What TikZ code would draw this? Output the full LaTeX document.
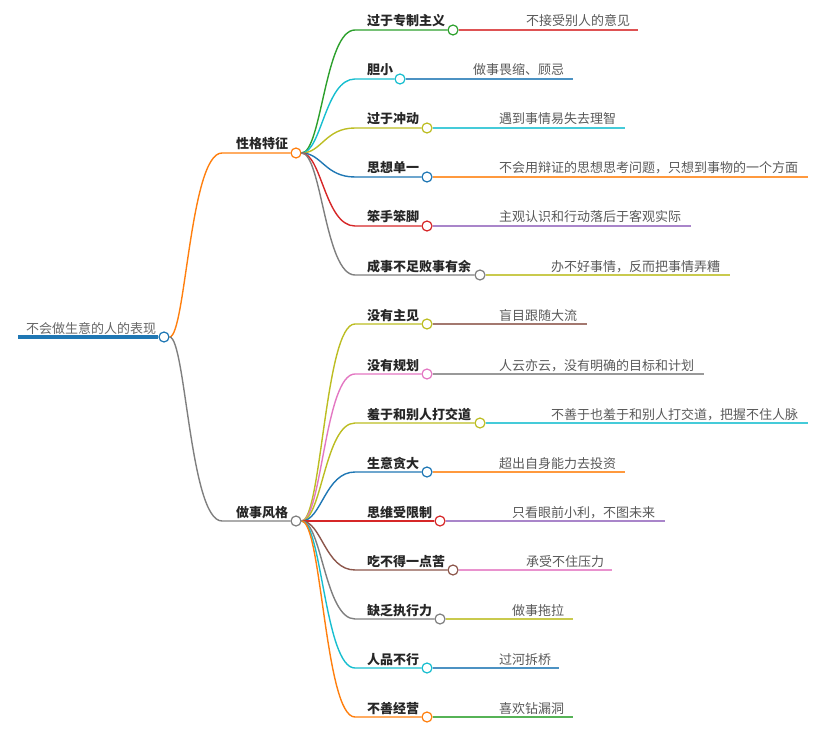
\documentclass[tikz,border=0pt]{standalone}
\usepackage{fontspec}
\setmainfont{Noto Sans CJK SC}
\definecolor{tblue}{HTML}{1F77B4}
\definecolor{torange}{HTML}{FF7F0E}
\definecolor{tgreen}{HTML}{2CA02C}
\definecolor{tred}{HTML}{D62728}
\definecolor{tpurple}{HTML}{9467BD}
\definecolor{tbrown}{HTML}{8C564B}
\definecolor{tpink}{HTML}{E377C2}
\definecolor{tgray}{HTML}{7F7F7F}
\definecolor{tolive}{HTML}{BCBD22}
\definecolor{tcyan}{HTML}{17BECF}
\tikzset{
  hub/.style={circle, draw, fill=white, minimum size=10pt, inner sep=0pt, line width=1.2pt},
  topic/.style={inner sep=0pt, anchor=base west, text=black!85, font=\fontsize{13}{15}\selectfont\bfseries},
  note/.style={inner sep=0pt, anchor=base west, text=black!65, font=\fontsize{13}{15}\selectfont},
  link/.style={line width=1.4pt},
  leaf/.style={line width=1.4pt, draw opacity=.8}
}
\begin{document}
\begin{tikzpicture}[x=1pt, y=-1pt]
    \useasboundingbox (0,0) rectangle (820,733);
    % root
    \node[hub, draw=tblue] (root) at (164,337) {};
    \coordinate (rs) at (18,337);
    \node[note, text=black!60] (rt) at (26,333) {不会做生意的人的表现};
    \draw[tblue, line width=4pt] (rs) -- (root);
    % branches
    \node[hub, draw=torange] (a) at (296,153) {};
    \coordinate (as) at (222,153);
    \node[topic] (at) at (236,149) {性格特征};
    \draw[link, torange] (root.east) .. controls +(16,0) and +(-32,0) .. (as) -- (a);
    \node[hub, draw=tgray] (b) at (296,521) {};
    \coordinate (bs) at (222,521);
    \node[topic] (bt) at (236,517) {做事风格};
    \draw[link, tgray] (root.east) .. controls +(16,0) and +(-32,0) .. (bs) -- (b);
    % 性格特征
    \node[hub, draw=tgreen] (a1) at (453,30) {};
    \coordinate (a1s) at (355,30);
    \coordinate (a1e) at (638,30);
    \node[topic] (a1t) at (367,26) {过于专制主义};
    \node[note] (a1n) at (526,26) {不接受别人的意见};
    \draw[link, tgreen] (a.east) .. controls +(20,0) and +(-30,0) .. (a1s) -- (a1);
    \draw[leaf, tred] (a1) -- (a1e);
    \node[hub, draw=tcyan] (a2) at (400,79) {};
    \coordinate (a2s) at (355,79);
    \coordinate (a2e) at (573,79);
    \node[topic] (a2t) at (367,75) {胆小};
    \node[note] (a2n) at (473,75) {做事畏缩、顾忌};
    \draw[link, tcyan] (a.east) .. controls +(20,0) and +(-30,0) .. (a2s) -- (a2);
    \draw[leaf, tblue] (a2) -- (a2e);
    \node[hub, draw=tolive] (a3) at (427,128) {};
    \coordinate (a3s) at (355,128);
    \coordinate (a3e) at (625,128);
    \node[topic] (a3t) at (367,124) {过于冲动};
    \node[note] (a3n) at (499,124) {遇到事情易失去理智};
    \draw[link, tolive] (a.east) .. controls +(20,0) and +(-30,0) .. (a3s) -- (a3);
    \draw[leaf, tcyan] (a3) -- (a3e);
    \node[hub, draw=tblue] (a4) at (427,177) {};
    \coordinate (a4s) at (355,177);
    \coordinate (a4e) at (808,177);
    \node[topic] (a4t) at (367,173) {思想单一};
    \node[note] (a4n) at (499,173) {不会用辩证的思想思考问题，只想到事物的一个方面};
    \draw[link, tblue] (a.east) .. controls +(20,0) and +(-30,0) .. (a4s) -- (a4);
    \draw[leaf, torange] (a4) -- (a4e);
    \node[hub, draw=tred] (a5) at (427,226) {};
    \coordinate (a5s) at (355,226);
    \coordinate (a5e) at (691,226);
    \node[topic] (a5t) at (367,222) {笨手笨脚};
    \node[note] (a5n) at (499,222) {主观认识和行动落后于客观实际};
    \draw[link, tred] (a.east) .. controls +(20,0) and +(-30,0) .. (a5s) -- (a5);
    \draw[leaf, tpurple] (a5) -- (a5e);
    \node[hub, draw=tgray] (a6) at (480,275) {};
    \coordinate (a6s) at (355,275);
    \coordinate (a6e) at (730,275);
    \node[topic] (a6t) at (367,271) {成事不足败事有余};
    \node[note] (a6n) at (551,271) {办不好事情，反而把事情弄糟};
    \draw[link, tgray] (a.east) .. controls +(20,0) and +(-30,0) .. (a6s) -- (a6);
    \draw[leaf, tolive] (a6) -- (a6e);
    % 做事风格
    \node[hub, draw=tolive] (b1) at (427,324) {};
    \coordinate (b1s) at (355,324);
    \coordinate (b1e) at (587,324);
    \node[topic] (b1t) at (367,320) {没有主见};
    \node[note] (b1n) at (499,320) {盲目跟随大流};
    \draw[link, tolive] (b.east) .. controls +(20,0) and +(-30,0) .. (b1s) -- (b1);
    \draw[leaf, tbrown] (b1) -- (b1e);
    \node[hub, draw=tpink] (b2) at (427,374) {};
    \coordinate (b2s) at (355,374);
    \coordinate (b2e) at (704,374);
    \node[topic] (b2t) at (367,370) {没有规划};
    \node[note] (b2n) at (499,370) {人云亦云，没有明确的目标和计划};
    \draw[link, tpink] (b.east) .. controls +(20,0) and +(-30,0) .. (b2s) -- (b2);
    \draw[leaf, tgray] (b2) -- (b2e);
    \node[hub, draw=tolive] (b3) at (480,423) {};
    \coordinate (b3s) at (355,423);
    \coordinate (b3e) at (808,423);
    \node[topic] (b3t) at (367,419) {羞于和别人打交道};
    \node[note] (b3n) at (551,419) {不善于也羞于和别人打交道，把握不住人脉};
    \draw[link, tolive] (b.east) .. controls +(20,0) and +(-30,0) .. (b3s) -- (b3);
    \draw[leaf, tcyan] (b3) -- (b3e);
    \node[hub, draw=tblue] (b4) at (427,472) {};
    \coordinate (b4s) at (355,472);
    \coordinate (b4e) at (625,472);
    \node[topic] (b4t) at (367,468) {生意贪大};
    \node[note] (b4n) at (499,468) {超出自身能力去投资};
    \draw[link, tblue] (b.east) .. controls +(20,0) and +(-30,0) .. (b4s) -- (b4);
    \draw[leaf, torange] (b4) -- (b4e);
    \node[hub, draw=tred] (b5) at (440,521) {};
    \coordinate (b5e) at (665,521);
    \node[topic] (b5t) at (367,517) {思维受限制};
    \node[note] (b5n) at (512,517) {只看眼前小利，不图未来};
    \draw[link, tred] (b) -- (b5);
    \draw[leaf, tpurple] (b5) -- (b5e);
    \node[hub, draw=tbrown] (b6) at (453,570) {};
    \coordinate (b6s) at (355,570);
    \coordinate (b6e) at (612,570);
    \node[topic] (b6t) at (367,566) {吃不得一点苦};
    \node[note] (b6n) at (526,566) {承受不住压力};
    \draw[link, tbrown] (b.east) .. controls +(20,0) and +(-30,0) .. (b6s) -- (b6);
    \draw[leaf, tpink] (b6) -- (b6e);
    \node[hub, draw=tgray] (b7) at (440,619) {};
    \coordinate (b7s) at (355,619);
    \coordinate (b7e) at (573,619);
    \node[topic] (b7t) at (367,615) {缺乏执行力};
    \node[note] (b7n) at (512,615) {做事拖拉};
    \draw[link, tgray] (b.east) .. controls +(20,0) and +(-30,0) .. (b7s) -- (b7);
    \draw[leaf, tolive] (b7) -- (b7e);
    \node[hub, draw=tcyan] (b8) at (427,668) {};
    \coordinate (b8s) at (355,668);
    \coordinate (b8e) at (559,668);
    \node[topic] (b8t) at (367,664) {人品不行};
    \node[note] (b8n) at (499,664) {过河拆桥};
    \draw[link, tcyan] (b.east) .. controls +(20,0) and +(-30,0) .. (b8s) -- (b8);
    \draw[leaf, tblue] (b8) -- (b8e);
    \node[hub, draw=torange] (b9) at (427,717) {};
    \coordinate (b9s) at (355,717);
    \coordinate (b9e) at (573,717);
    \node[topic] (b9t) at (367,713) {不善经营};
    \node[note] (b9n) at (499,713) {喜欢钻漏洞};
    \draw[link, torange] (b.east) .. controls +(20,0) and +(-30,0) .. (b9s) -- (b9);
    \draw[leaf, tgreen] (b9) -- (b9e);
\end{tikzpicture}
\end{document}
